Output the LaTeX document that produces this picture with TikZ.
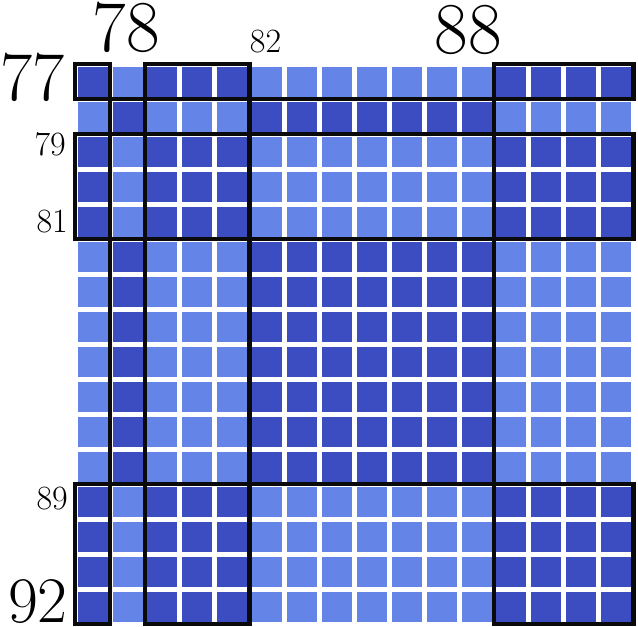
\documentclass[tikz,border=0pt]{standalone}
\usepackage{fontspec}
\definecolor{cdark}{RGB}{59,77,193}
\definecolor{clight}{RGB}{100,132,232}
\definecolor{cline}{RGB}{10,10,10}
\begin{document}
\begin{tikzpicture}[x=1bp,y=-1bp,
  groupbox/.style={draw=cline,line width=4.2bp},
  biglab/.style={inner sep=0pt,font=\fontsize{70bp}{70bp}\selectfont},
  toplab/.style={inner sep=0pt,font=\fontsize{73bp}{73bp}\selectfont},
  botlab/.style={inner sep=0pt,font=\fontsize{65bp}{65bp}\selectfont},
  smalllab/.style={inner sep=0pt,font=\fontsize{34bp}{34bp}\selectfont}]
\useasboundingbox (0,0) rectangle (638,627);
% cells
\foreach \i in {0,...,15}{
  \foreach \j in {0,...,15}{
    \pgfmathtruncatemacro\ti{(\i==1)||((\i>4)&&(\i<12))}
    \pgfmathtruncatemacro\tj{(\j==1)||((\j>4)&&(\j<12))}
    \ifnum\ti=\tj
      \fill[cdark] (75+34.9*\i+2.6, 64.2+35*\j+2.5) rectangle ++(30,30);
    \else
      \fill[clight] (75+34.9*\i+2.6, 64.2+35*\j+2.5) rectangle ++(30,30);
    \fi
  }
}
% group boxes
\foreach \ca/\cb/\ct in {0/1/0,1/2/1,2/5/0,5/12/1,12/16/0}{
  \foreach \ra/\rb/\rt in {0/1/0,1/2/1,2/5/0,5/12/1,12/16/0}{
    \ifnum\ct=\rt
      \draw[groupbox] (75+34.9*\ca, 64.2+35*\ra) rectangle (75+34.9*\cb, 64.2+35*\rb);
    \fi
  }
}
% labels
\node[biglab,anchor=base east] (l77) at (65,101) {77};
\node[toplab,anchor=base] (l78) at (126.5,51.5) {78};
\node[smalllab,anchor=base] (l82) at (265.5,53) {82};
\node[toplab,anchor=base] (l88) at (468.5,54) {88};
\node[smalllab,anchor=base east] (l79) at (66,156) {79};
\node[smalllab,anchor=base east] (l81) at (68,232) {81};
\node[smalllab,anchor=base east] (l89) at (68,509) {89};
\node[botlab,anchor=base east] (l92) at (68,622) {92};
\end{tikzpicture}
\end{document}
